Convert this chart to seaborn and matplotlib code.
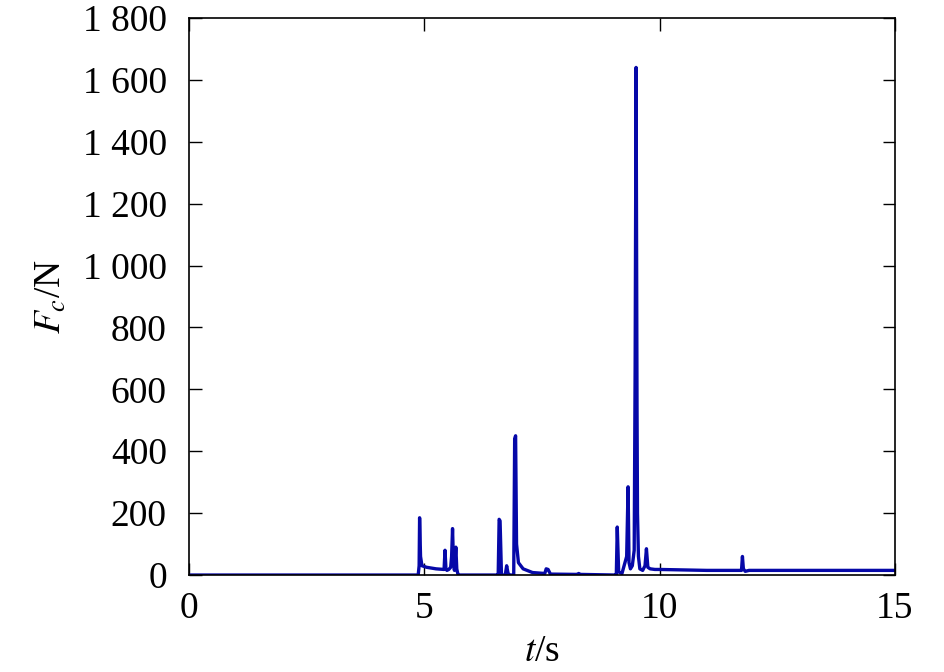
import matplotlib
matplotlib.use("Agg")
import matplotlib.pyplot as plt
import matplotlib.ticker as mticker
import seaborn as sns
import pandas as pd

# contact force trace
time_s = [0.0, 4.87, 4.89, 4.90, 4.92, 4.95, 5.05, 5.25, 5.42, 5.44, 5.46, 5.48, 5.52,
          5.56, 5.58, 5.60, 5.62, 5.64, 5.67, 5.69, 5.71, 5.74, 5.78, 6.55, 6.57,
          6.59, 6.61, 6.64, 6.72, 6.75, 6.78, 6.82, 6.90, 6.92, 6.94, 6.96, 7.00,
          7.10, 7.30, 7.56, 7.59, 7.63, 7.68, 8.25, 8.28, 8.32, 9.06, 9.08, 9.10,
          9.13, 9.20, 9.30, 9.33, 9.35, 9.38, 9.42, 9.46, 9.48, 9.50, 9.52, 9.53,
          9.55, 9.58, 9.64, 9.69, 9.72, 9.75, 9.80, 9.90, 10.0, 11.0, 11.7, 11.74,
          11.76, 11.78, 11.82, 11.9, 12.0, 15.0]
force_n = [0, 0, 30, 185, 60, 30, 25, 20, 18, 80, 20, 15, 18,
           25, 60, 150, 40, 15, 90, 20, 5, 0, 0, 0, 0,
           180, 175, 0, 0, 30, 5, 0, 0, 440, 450, 100, 40,
           20, 8, 5, 20, 18, 3, 2, 5, 2, 0, 0, 155,
           10, 5, 60, 285, 40, 20, 30, 80, 670, 1640, 540, 200,
           60, 20, 15, 30, 85, 25, 20, 18, 18, 15, 15, 15,
           60, 20, 12, 15, 15, 15]

df = pd.DataFrame({"t": time_s, "F": force_n})

sns.set_style("ticks")
plt.rcParams["font.family"] = ["Liberation Serif", "DejaVu Serif"]
plt.rcParams["mathtext.fontset"] = "stix"
plt.rcParams["text.color"] = "black"
plt.rcParams["axes.labelcolor"] = "black"
plt.rcParams["xtick.color"] = "black"
plt.rcParams["ytick.color"] = "black"
plt.rcParams["axes.edgecolor"] = "black"

fig = plt.figure(figsize=(9.45, 6.72), dpi=100)
ax = fig.add_axes([0.2, 0.1443, 0.747, 0.829])

sns.lineplot(data=df, x="t", y="F", ax=ax, color="#0608a8", linewidth=2.4,
             estimator=None, sort=False)

ax.set_xlim(0, 15)
ax.set_ylim(0, 1800)
ax.set_xticks([0, 5, 10, 15])
ax.set_yticks(range(0, 1801, 200))
ax.yaxis.set_major_formatter(mticker.FuncFormatter(
    lambda v, p: f"{int(v):,}".replace(",", " ")))
ax.tick_params(direction="in", top=True, right=True, length=9, width=1,
               labelsize=27)
ax.tick_params(axis="y", pad=16)
ax.tick_params(axis="x", pad=12)
for s in ax.spines.values():
    s.set_linewidth(1.2)
ax.set_xlabel(r"$t$/s", fontsize=27, labelpad=6)
ax.set_ylabel(r"$F_c$/N", fontsize=27, labelpad=10)

fig.savefig("out.png", dpi=100)
